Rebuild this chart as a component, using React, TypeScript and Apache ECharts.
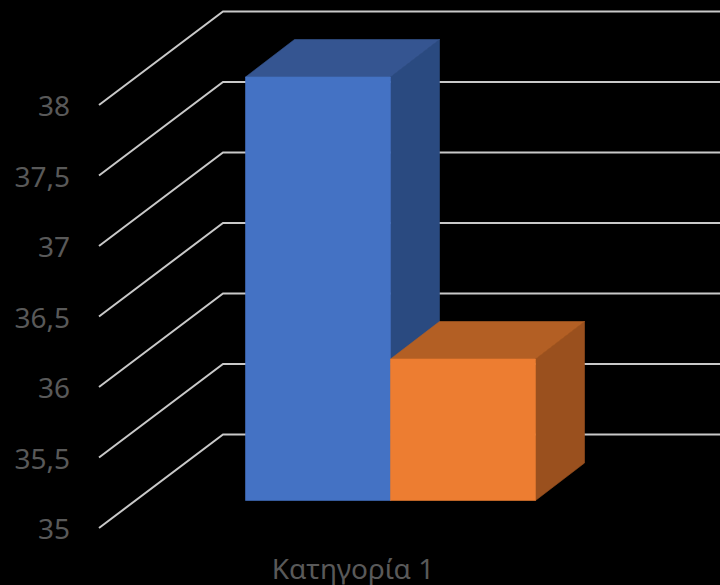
import React, { useEffect, useRef } from "react";
import * as echarts from "echarts";

const categories = ["Κατηγορία 1"];
const yTicks = [35, 35.5, 36, 36.5, 37, 37.5, 38];
const series1Values = [38];
const series2Values = [36];

const FONT = "'Noto Sans', 'Open Sans', sans-serif";
const DEPTH_X = 124;
const DEPTH_Y = 93.5;
const BAR_SHIFT_X = 37.5;
const BAR_SHIFT_Y = 27.5;
const BAR_W = 145;
const BAR_DX = 49;
const BAR_DY = 37.5;

function gridRender(_p: any, api: any) {
  const p = api.coord([0, api.value(1)]);
  const x0 = _p.coordSys.x;
  const y = p[1];
  return {
    type: "polyline",
    shape: { points: [[x0, y], [x0 + DEPTH_X, y - DEPTH_Y], [720, y - DEPTH_Y]] },
    style: { fill: "none", stroke: "#c9c9c9", lineWidth: 2 },
    silent: true,
  };
}

function barRender(slot: number, front: string, top: string, side: string) {
  return (_p: any, api: any) => {
    const base = api.coord([0, 35]);
    const tip = api.coord([0, api.value(1)]);
    const x0 = base[0] + BAR_SHIFT_X + slot * BAR_W;
    const x1 = x0 + BAR_W;
    const yb = base[1] - BAR_SHIFT_Y;
    const yt = tip[1] - BAR_SHIFT_Y - 0.5;
    const dx = BAR_DX;
    const dy = BAR_DY;
    const face = (points: number[][], fill: string) => ({
      type: "polygon",
      shape: { points },
      style: { fill, stroke: fill, lineWidth: 0.6 },
    });
    return {
      type: "group",
      children: [
        face([[x1, yt], [x1 + dx, yt - dy], [x1 + dx, yb - dy], [x1, yb]], side),
        face([[x0, yt], [x0 + dx, yt - dy], [x1 + dx, yt - dy], [x1, yt]], top),
        face([[x0, yt], [x1, yt], [x1, yb], [x0, yb]], front),
      ],
    };
  };
}

export default function App() {
  const ref = useRef<HTMLDivElement>(null);
  useEffect(() => {
    document.body.style.margin = "0";
    const chart = echarts.init(ref.current!, null, { renderer: "svg" });
    chart.setOption({
      animation: false,
      backgroundColor: "#000000",
      grid: { left: 99, top: 105, width: 508, height: 423 },
      xAxis: {
        type: "category",
        data: categories,
        axisLine: { show: false },
        axisTick: { show: false },
        splitLine: { show: false },
        axisLabel: { color: "#595959", fontFamily: FONT, fontSize: 28, margin: 26 },
      },
      yAxis: {
        type: "value",
        min: 35,
        max: 38,
        interval: 0.5,
        axisLine: { show: false },
        axisTick: { show: false },
        splitLine: { show: false },
        axisLabel: {
          color: "#595959",
          fontFamily: FONT,
          fontSize: 28,
          margin: 29,
          formatter: (v: number) => String(v).replace(".", ","),
        },
      },
      series: [
        {
          type: "custom",
          name: "grid",
          silent: true,
          renderItem: gridRender,
          data: yTicks.map((v) => [0, v]),
          z: 1,
        },
        {
          type: "custom",
          name: "Σειρά 1",
          renderItem: barRender(-1, "#4472C4", "#355591", "#2A4A80"),
          data: series1Values.map((v, i) => [i, v]),
          z: 2,
        },
        {
          type: "custom",
          name: "Σειρά 2",
          renderItem: barRender(0, "#ED7D31", "#B35F24", "#9A501E"),
          data: series2Values.map((v, i) => [i, v]),
          z: 3,
        },
      ],
    });
    return () => chart.dispose();
  }, []);
  return <div ref={ref} style={{ position: "fixed", left: 0, top: 0, width: 720, height: 585 }} />;
}
